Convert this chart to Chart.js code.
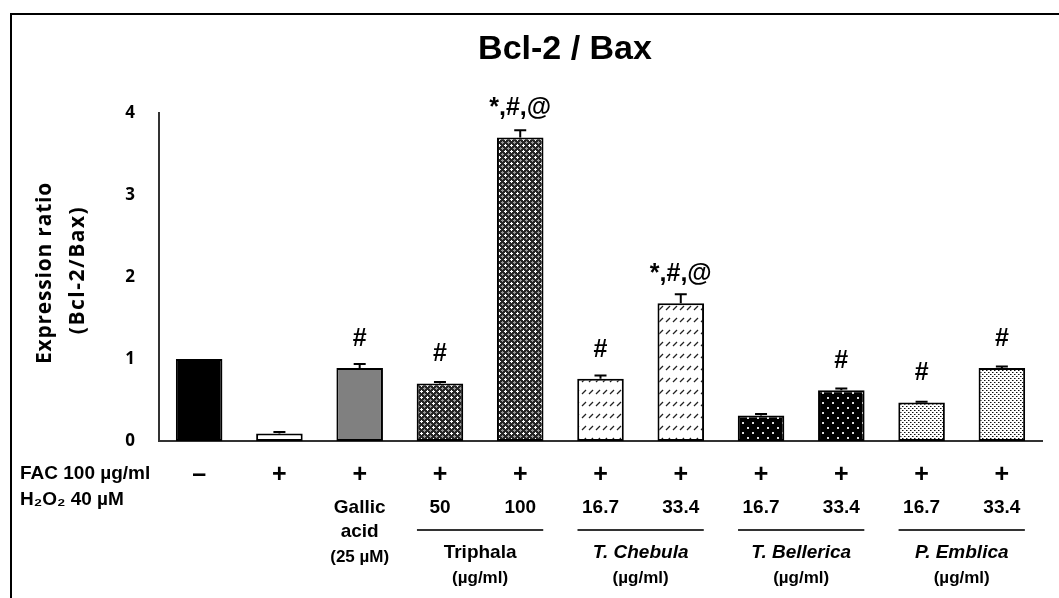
<!DOCTYPE html>
<html>
<head>
<meta charset="utf-8">
<script src="https://cdn.jsdelivr.net/npm/chart.js@4.4.1/dist/chart.umd.min.js"></script>
<style>
  html, body { margin: 0; padding: 0; background: #fff; }
  #wrap { width: 1059px; height: 598px; position: relative; }
</style>
</head>
<body>
<div id="wrap"><canvas id="chart-ratio" width="1059" height="598"></canvas></div>
<script>
// datos
const categories = ['Control', 'FAC+H2O2', 'Gallic acid', 'Triphala 50', 'Triphala 100',
    'T. Chebula 16.7', 'T. Chebula 33.4', 'T. Bellerica 16.7', 'T. Bellerica 33.4',
    'P. Emblica 16.7', 'P. Emblica 33.4'];
const ratioValues = [1.00, 0.09, 0.89, 0.70, 3.70, 0.76, 1.68, 0.31, 0.62, 0.47, 0.89];
const errorValues = [0, 0.02, 0.05, 0.02, 0.09, 0.04, 0.11, 0.02, 0.02, 0.01, 0.02];
const markLabels = ['', '', '#', '#', '*,#,@', '#', '*,#,@', '', '#', '#', '#'];
const yTicks = [0, 1, 2, 3, 4];

// tabla de tratamientos bajo el eje
const facRow = ['\u2013', '+', '+', '+', '+', '+', '+', '+', '+', '+', '+'];
const doseRow = ['', '', 'Gallic', '50', '100', '16.7', '33.4', '16.7', '33.4', '16.7', '33.4'];
const groupNames = ['Triphala', 'T. Chebula', 'T. Bellerica', 'P. Emblica'];
const groupFirst = [3, 5, 7, 9];
const groupLast = [4, 6, 8, 10];
const groupItalic = [false, true, true, true];

function makePattern(w, h, draw) {
    const c = document.createElement('canvas');
    c.width = w; c.height = h;
    const g = c.getContext('2d');
    draw(g);
    return g.createPattern(c, 'repeat');
}

const patTriphala = makePattern(6, 6, g => {
    g.fillStyle = '#262626'; g.fillRect(0, 0, 6, 6);
    g.fillStyle = '#ffffff';
    [[1, 0], [0, 1], [1, 1], [2, 1], [1, 2]].forEach(p => g.fillRect(p[0], p[1], 1, 1));
    g.fillStyle = '#9a9a9a';
    [[4, 3], [3, 4], [4, 4], [5, 4], [4, 5]].forEach(p => g.fillRect(p[0], p[1], 1, 1));
});
const patChebula = makePattern(7, 12, g => {
    g.fillStyle = '#ffffff'; g.fillRect(0, 0, 7, 12);
    g.strokeStyle = '#222'; g.lineWidth = 1.3;
    g.beginPath(); g.moveTo(1, 10); g.lineTo(5, 6); g.stroke();
});
const patBellerica = makePattern(10, 10, g => {
    g.fillStyle = '#000000'; g.fillRect(0, 0, 10, 10);
    g.fillStyle = '#dddddd';
    g.fillRect(2, 2, 2, 2);
    g.fillRect(7, 7, 2, 2);
});
const patEmblica = makePattern(4, 4, g => {
    g.fillStyle = '#ffffff'; g.fillRect(0, 0, 4, 4);
    g.fillStyle = '#111'; g.fillRect(0, 0, 1, 1); g.fillRect(2, 2, 1, 1);
    g.fillStyle = '#888'; g.fillRect(1, 0, 1, 1); g.fillRect(3, 2, 1, 1);
});

const barFills = ['#000000', '#ffffff', '#808080', patTriphala, patTriphala,
    patChebula, patChebula, patBellerica, patBellerica, patEmblica, patEmblica];

const FONT = '"Liberation Sans", Arial, sans-serif';

const decoPlugin = {
    id: 'deco',
    beforeDraw(chart) {
        const c = chart.ctx;
        c.save();
        c.fillStyle = '#fff';
        c.fillRect(0, 0, chart.width, chart.height);
        // marco exterior
        c.strokeStyle = '#000'; c.lineWidth = 2;
        c.beginPath();
        c.moveTo(11, chart.height + 2); c.lineTo(11, 14); c.lineTo(chart.width + 2, 14);
        c.stroke();
        c.restore();
    },
    afterDatasetsDraw(chart) {
        const c = chart.ctx;
        const x = chart.scales.x, y = chart.scales.y;
        c.save();
        // barras de error (solo hacia arriba)
        c.strokeStyle = '#000'; c.lineWidth = 2;
        ratioValues.forEach((v, i) => {
            if (!errorValues[i]) return;
            const px = x.getPixelForValue(i);
            const y0 = y.getPixelForValue(v), y1 = y.getPixelForValue(v + errorValues[i]);
            c.beginPath();
            c.moveTo(px, y0); c.lineTo(px, y1);
            c.moveTo(px - 6, y1); c.lineTo(px + 6, y1);
            c.stroke();
        });
        // marcas de significancia
        c.fillStyle = '#000';
        c.textAlign = 'center'; c.textBaseline = 'middle';
        c.font = 'bold 25px ' + FONT;
        markLabels.forEach((t, i) => {
            if (!t) return;
            c.fillText(t, x.getPixelForValue(i), y.getPixelForValue(ratioValues[i]) - 29);
        });
        c.restore();
    },
    afterDraw(chart) {
        const c = chart.ctx;
        const x = chart.scales.x;
        c.save();
        c.fillStyle = '#000';
        c.textBaseline = 'middle';

        // título
        c.textAlign = 'center';
        c.font = 'bold 34px ' + FONT;
        c.fillText('Bcl-2 / Bax', 565, 50);

        // título del eje y
        c.font = 'bold 21px "Open Sans", sans-serif';
        c.letterSpacing = '0.8px';
        c.save(); c.translate(45, 273); c.rotate(-Math.PI / 2);
        c.fillText('Expression ratio', 0, 0); c.restore();
        c.letterSpacing = '1.5px';
        c.save(); c.translate(78, 270); c.rotate(-Math.PI / 2);
        c.fillText('(Bcl-2/Bax)', 0, 0); c.restore();
        c.letterSpacing = '0px';

        // filas de la tabla
        c.textAlign = 'left';
        c.font = 'bold 19px ' + FONT;
        c.fillText('FAC 100 \u00b5g/ml', 20, 474);
        c.fillText('H\u2082O\u2082 40 \u00b5M', 20, 500);

        c.textAlign = 'center';
        c.font = 'bold 25px ' + FONT;
        facRow.forEach((t, i) => c.fillText(t, x.getPixelForValue(i), 475));
        c.font = 'bold 19px ' + FONT;
        doseRow.forEach((t, i) => { if (t) c.fillText(t, x.getPixelForValue(i), 508); });

        const gx = x.getPixelForValue(2);
        c.fillText('acid', gx, 532);
        c.font = 'bold 17px ' + FONT;
        c.fillText('(25 \u00b5M)', gx, 557);

        c.strokeStyle = '#333'; c.lineWidth = 2;
        groupNames.forEach((name, k) => {
            const a = x.getPixelForValue(groupFirst[k]), b = x.getPixelForValue(groupLast[k]);
            c.beginPath(); c.moveTo(a - 23, 530); c.lineTo(b + 23, 530); c.stroke();
            const mid = (a + b) / 2;
            c.font = (groupItalic[k] ? 'italic ' : '') + 'bold 19px ' + FONT;
            c.fillText(name, mid, 553);
            c.font = 'bold 17px ' + FONT;
            c.fillText('(\u00b5g/ml)', mid, 578);
        });
        c.restore();
    }
};

new Chart(document.getElementById('chart-ratio'), {
    type: 'bar',
    data: {
        labels: categories,
        datasets: [{
            data: ratioValues,
            backgroundColor: barFills,
            borderColor: '#000',
            borderWidth: 2,
            borderSkipped: false,
            barPercentage: 0.58,
            categoryPercentage: 1
        }]
    },
    options: {
        responsive: false,
        animation: false,
        devicePixelRatio: 1,
        layout: { padding: { top: 113, right: 17, bottom: 157, left: 0 } },
        plugins: { legend: { display: false }, tooltip: { enabled: false } },
        scales: {
            x: {
                grid: { display: false },
                border: { display: true, color: '#333', width: 2 },
                ticks: { display: false },
                afterFit(s) { s.height = 0; }
            },
            y: {
                min: 0, max: 4,
                afterBuildTicks(s) { s.ticks = yTicks.map(v => ({ value: v })); },
                grid: { display: false },
                border: { display: true, color: '#333', width: 2 },
                ticks: { padding: 16, color: '#000', font: { family: '"Open Sans", sans-serif', size: 17, weight: 'bold' } },
                afterFit(s) { s.width = 159; }
            }
        }
    },
    plugins: [decoPlugin]
});
</script>
</body>
</html>
